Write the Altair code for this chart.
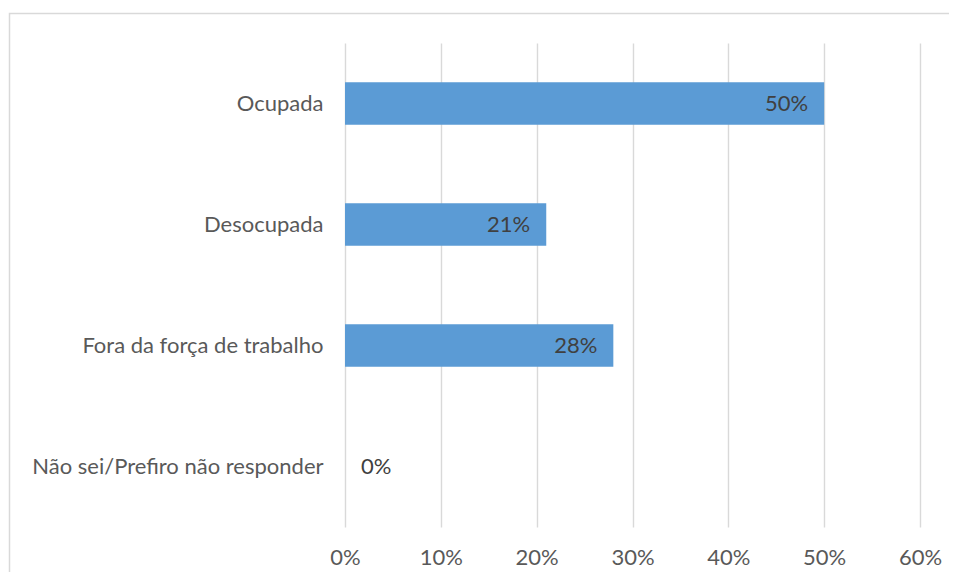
import altair as alt
import pandas as pd

categories = ["Ocupada", "Desocupada", "Fora da força de trabalho", "Não sei/Prefiro não responder"]
values = [0.50, 0.21, 0.28, 0.0]
x_ticks = [0, 0.1, 0.2, 0.3, 0.4, 0.5, 0.6]

df = pd.DataFrame({"cat": categories, "val": values})

FONT = "Lato"
FS = 22
TICK_COLOR = "#595959"
LABEL_COLOR = "#404040"
GRID = "#d9d9d9"

x_enc = alt.X("val:Q",
              scale=alt.Scale(domain=[0, 0.6], nice=False, zero=True),
              axis=alt.Axis(values=x_ticks, format=".0%", title=None, domain=False, ticks=False,
                            grid=True, gridColor=GRID, gridWidth=1.4,
                            labelFont=FONT, labelFontSize=FS, labelColor=TICK_COLOR,
                            labelPadding=20, labelFlush=False))
y_enc = alt.Y("cat:N", sort=categories,
              scale=alt.Scale(paddingInner=0.65, paddingOuter=0.325),
              axis=alt.Axis(title=None, domain=False, ticks=False, grid=False,
                            labelFont=FONT, labelFontSize=FS, labelColor=TICK_COLOR,
                            labelPadding=22, labelLimit=400))

frame = alt.Chart(alt.Data(values=[{"a": 1}])).mark_rect(
    fill="white", fillOpacity=0, stroke=GRID, strokeWidth=1.5
).encode(x=alt.value(-335.5), x2=alt.value(800), y=alt.value(-29.5), y2=alt.value(700))

base = alt.Chart(df)
bars = base.mark_bar(color="#5B9BD5").encode(x=x_enc, y=y_enc)

labels_in = base.transform_filter("datum.val > 0").mark_text(
    align="right", baseline="middle", dx=-16, font=FONT, fontSize=FS, color=LABEL_COLOR
).encode(x="val:Q", y=alt.Y("cat:N", sort=categories), text=alt.Text("val:Q", format=".0%"))

labels_zero = base.transform_filter("datum.val <= 0").mark_text(
    align="left", baseline="middle", dx=16, font=FONT, fontSize=FS, color=LABEL_COLOR
).encode(x="val:Q", y=alt.Y("cat:N", sort=categories), text=alt.Text("val:Q", format=".0%"))

chart = alt.layer(frame, bars, labels_in, labels_zero).properties(
    width=575, height=484,
    autosize=alt.AutoSizeParams(type="none"),
    padding={"left": 337, "top": 35, "right": 29, "bottom": 45},
    background="white",
).configure_view(stroke="transparent")

chart.save("out.html", embed_options={"renderer": "svg", "actions": False})
